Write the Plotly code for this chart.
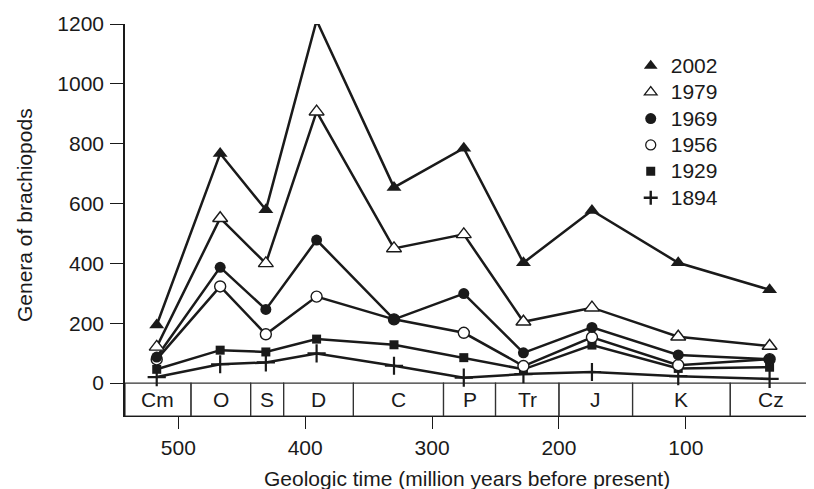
import plotly.graph_objects as go

# Geologic periods (boundaries in Ma) and labels
period_bounds = [542, 490, 443, 417, 362, 291, 250, 200, 142, 65, 0]
period_labels = ["Cm", "O", "S", "D", "C", "P", "Tr", "J", "K", "Cz"]

# x positions of data points (Ma)
point_ma = [517, 467, 431, 391, 330, 275, 228, 174, 106, 34]

g2002 = [194, 767, 579, 1212, 654, 785, 402, 577, 402, 312]
g1979 = [121, 551, 400, 907, 450, 497, 205, 252, 155, 124]
g1969 = [87, 387, 246, 478, 213, 299, 101, 186, 94, 80]
g1956 = [79, 323, 163, 289, 213, 168, 57, 153, 60, 80]
g1929 = [46, 110, 104, 147, 128, 85, 46, 127, 49, 53]
g1894 = [20, 63, 69, 99, 58, 18, 30, 37, 23, 14]

y_ticks = [0, 200, 400, 600, 800, 1000, 1200]
x_ticks = [500, 400, 300, 200, 100, 0]

INK = "#1a1a1a"
FONT = "Liberation Sans, Arial, Helvetica, sans-serif"
FS = 21

series = [
    ("1894", g1894, dict(symbol="cross-thin", size=13, color=INK, line=dict(color=INK, width=2.2)),
     dict(symbol="cross-thin", size=10, color=INK, line=dict(color=INK, width=2.4))),
    ("1929", g1929, dict(symbol="square", size=9, color=INK, line=dict(width=0)),
     dict(symbol="square", size=9, color=INK, line=dict(width=0))),
    ("1956", g1956, dict(symbol="circle", size=11, color="white", line=dict(color=INK, width=1.4)),
     dict(symbol="circle", size=10, color="white", line=dict(color=INK, width=1.3))),
    ("1969", g1969, dict(symbol="circle", size=11, color=INK, line=dict(width=0)),
     dict(symbol="circle", size=11, color=INK, line=dict(width=0))),
    ("1979", g1979, dict(symbol="triangle-up", size=13, color="white", line=dict(color=INK, width=1.4)),
     dict(symbol="triangle-up", size=11, color="white", line=dict(color=INK, width=1.3))),
    ("2002", g2002, dict(symbol="triangle-up", size=13, color=INK, line=dict(width=0)),
     dict(symbol="triangle-up", size=12, color=INK, line=dict(width=0))),
]

fig = go.Figure()
for name, vals, mk, _ in series:
    fig.add_trace(go.Scatter(
        x=point_ma, y=vals, mode="lines+markers", name=name,
        line=dict(color=INK, width=2.5), marker=mk,
        showlegend=False, cliponaxis=False,
    ))

# legend-only dummy traces (markers only), top to bottom 2002 ... 1894
for name, vals, _, lmk in reversed(series):
    fig.add_trace(go.Scatter(
        x=[None], y=[None], mode="markers",
        name='<span style="font-size:%dpx">%s</span>' % (FS, name),
        marker=lmk, showlegend=True,
    ))

# Period boxes
shapes = []
annotations = []
for i, lab in enumerate(period_labels):
    x0, x1 = period_bounds[i], period_bounds[i + 1]
    shapes.append(dict(type="rect", xref="x", yref="y", x0=x0, x1=x1, y0=-110, y1=0,
                       line=dict(color="#333333", width=1.2), fillcolor="rgba(0,0,0,0)", layer="below"))
    annotations.append(dict(x=(x0 + x1) / 2, y=-55, xref="x", yref="y", text=lab,
                            showarrow=False, font=dict(size=FS, color=INK, family=FONT)))

# axis titles
annotations.append(dict(x=0.497, y=-0.1607, xref="paper", yref="paper",
                        text="Geologic time (million years before present)", showarrow=False,
                        xanchor="center", yanchor="middle", font=dict(size=FS, color=INK, family=FONT)))
annotations.append(dict(x=-0.1451, y=0.5128, xref="paper", yref="paper",
                        text="Genera of brachiopods", showarrow=False, textangle=-90,
                        xanchor="center", yanchor="middle", font=dict(size=FS, color=INK, family=FONT)))

# page body has an 8px default margin; plot area target (window px): x 125-814, y 24-416
fig.update_layout(
    width=814, height=489,
    margin=dict(l=117, r=8, t=16, b=81),
    paper_bgcolor="white", plot_bgcolor="white",
    font=dict(family=FONT, size=FS, color=INK),
    shapes=shapes, annotations=annotations,
    legend=dict(x=0.734, y=0.940, xanchor="left", yanchor="top", bgcolor="rgba(0,0,0,0)",
                font=dict(size=18, color=INK), tracegroupgap=0, itemwidth=30),
    showlegend=True,
)
fig.update_xaxes(
    range=[542, -1], tickvals=x_ticks, ticks="outside", ticklen=12, tickwidth=1.3, tickcolor=INK,
    showline=True, linecolor=INK, linewidth=1.3, showgrid=False, zeroline=False,
    tickfont=dict(size=FS), automargin=False, ticklabelstandoff=1,
)
fig.update_yaxes(
    range=[-110, 1200], tickvals=y_ticks, ticks="outside", ticklen=13, tickwidth=1.3, tickcolor=INK,
    showline=True, linecolor=INK, linewidth=1.5, showgrid=False, zeroline=False,
    tickfont=dict(size=FS), automargin=False, ticklabelstandoff=2,
)

fig.write_html("out.html")
